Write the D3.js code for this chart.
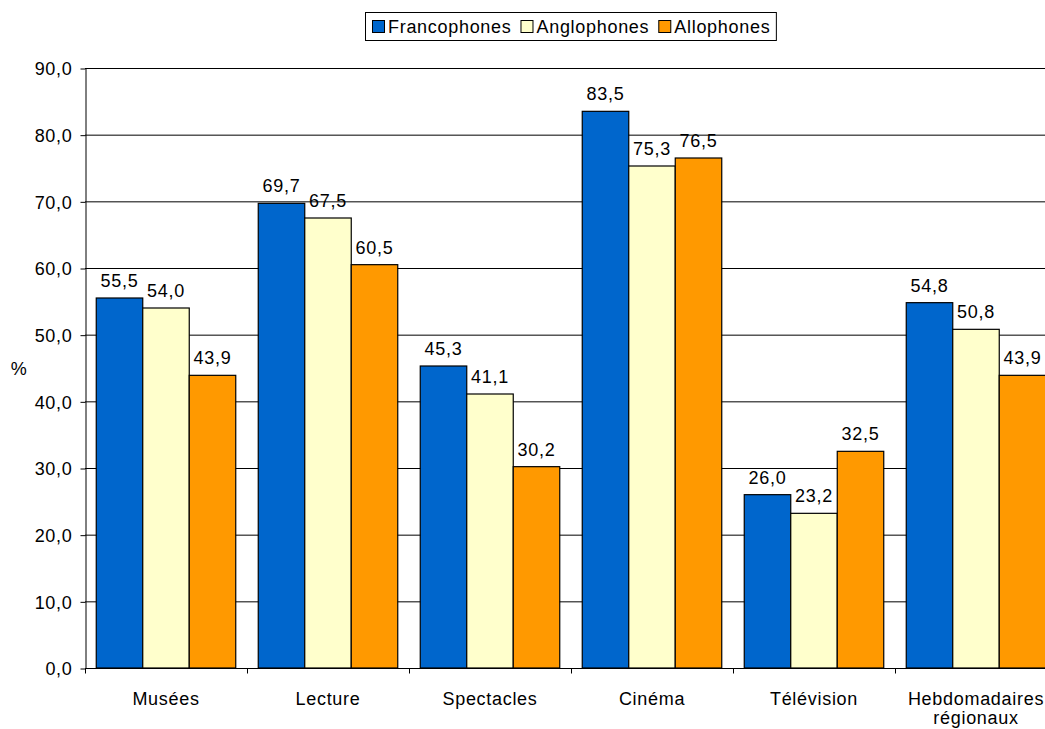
<!DOCTYPE html>
<html>
<head>
<meta charset="utf-8">
<script src="https://cdn.jsdelivr.net/npm/d3@7"></script>
<style>
  html, body { margin: 0; padding: 0; background: #fff; }
  svg { display: block; font-family: "Liberation Sans", Arial, sans-serif; }
  svg text { font-size: 18px; letter-spacing: 0.7px; fill: #000; }
</style>
</head>
<body>
<svg id="chart" width="1045" height="729"></svg>
<script>
// Categories (two-line labels split on "\n")
const categories = ["Musées", "Lecture", "Spectacles", "Cinéma", "Télévision", "Hebdomadaires\nrégionaux"];
const seriesNames = ["Francophones", "Anglophones", "Allophones"];
const francophones = [55.5, 69.7, 45.3, 83.5, 26.0, 54.8];
const anglophones  = [54.0, 67.5, 41.1, 75.3, 23.2, 50.8];
const allophones   = [43.9, 60.5, 30.2, 76.5, 32.5, 43.9];
const seriesColors = ["#0066CC", "#FFFFCC", "#FF9900"];
const yTicks = [0, 10, 20, 30, 40, 50, 60, 70, 80, 90];

const series = [francophones, anglophones, allophones];
const fmt = v => v.toFixed(1).replace(".", ",");

const svg = d3.select("#chart");
const plotLeft = 85, plotTop = 68, plotBottom = 668, band = 162;

const x0 = d3.scaleBand().domain(categories).range([plotLeft, plotLeft + band * categories.length]).padding(0);
const x1 = d3.scaleBand().domain(seriesNames).range([11.25, band - 11.25]).padding(0);
const y = d3.scaleLinear().domain([0, 90]).range([plotBottom, plotTop]);

// horizontal gridlines
svg.append("g").selectAll("line").data(yTicks.filter(t => t > 0)).join("line")
  .attr("x1", plotLeft).attr("x2", 1045)
  .attr("y1", d => y(d) + 0.5).attr("y2", d => y(d) + 0.5)
  .attr("stroke", "#000").attr("stroke-width", 1);

// bars with value labels
const groups = svg.append("g").selectAll("g").data(categories).join("g")
  .attr("transform", d => `translate(${x0(d)},0)`);

groups.each(function(cat, ci) {
  const g = d3.select(this);
  seriesNames.forEach((s, si) => {
    const v = series[si][ci];
    g.append("rect")
      .attr("x", x1(s)).attr("y", y(v))
      .attr("width", x1.bandwidth()).attr("height", y(0) - y(v))
      .attr("fill", seriesColors[si]).attr("stroke", "#000").attr("stroke-width", 1.2);
    g.append("text")
      .attr("x", x1(s) + x1.bandwidth() / 2).attr("y", y(v) - 11)
      .attr("text-anchor", "middle")
      .text(fmt(v));
  });
});

// y axis
const yAxis = d3.axisLeft(y).tickValues(yTicks).tickSize(5).tickSizeOuter(0).tickFormat(fmt);
const ya = svg.append("g").attr("transform", `translate(${plotLeft + 0.5},0.5)`).call(yAxis);
ya.attr("font-size", null).attr("font-family", null);
ya.select(".domain").attr("stroke", "#000");
ya.selectAll(".tick line").attr("stroke", "#000");
ya.selectAll(".tick text").attr("fill", "#000").attr("x", -13).attr("dy", "0.36em");

// x axis
const xa = svg.append("g").attr("transform", `translate(0,${plotBottom + 0.5})`);
xa.append("line").attr("x1", plotLeft).attr("x2", 1045).attr("y1", 0).attr("y2", 0).attr("stroke", "#000");
xa.selectAll("line.tk").data(categories).join("line").attr("class", "tk")
  .attr("x1", d => x0(d) + 0.5).attr("x2", d => x0(d) + 0.5).attr("y1", 0).attr("y2", 5).attr("stroke", "#000");
xa.selectAll("text").data(categories).join("text")
  .attr("x", d => x0(d) + band / 2).attr("y", 36)
  .attr("text-anchor", "middle")
  .each(function(d) {
    const t = d3.select(this);
    d.split("\n").forEach((line, i) => {
      t.append("tspan").attr("x", x0(d) + band / 2).attr("dy", i === 0 ? 0 : 19).text(line);
    });
  });

// y axis title
svg.append("text").attr("x", 19).attr("y", 375).attr("text-anchor", "middle").text("%");

// legend
const legend = svg.append("g");
const box = legend.append("rect").attr("x", 365.5).attr("y", 12.5).attr("height", 28)
  .attr("fill", "#fff").attr("stroke", "#000").attr("stroke-width", 1);
const itemGap = 9;
let lx = 372;
seriesNames.forEach((s, i) => {
  legend.append("rect").attr("x", lx + 0.5).attr("y", 20.5).attr("width", 12).attr("height", 12)
    .attr("fill", seriesColors[i]).attr("stroke", "#000").attr("stroke-width", 1);
  const t = legend.append("text").attr("x", lx + 16).attr("y", 33).text(s);
  lx += 16 + t.node().getComputedTextLength() + itemGap;
});
box.attr("width", lx - itemGap + 6 - 365.5);
</script>
</body>
</html>
